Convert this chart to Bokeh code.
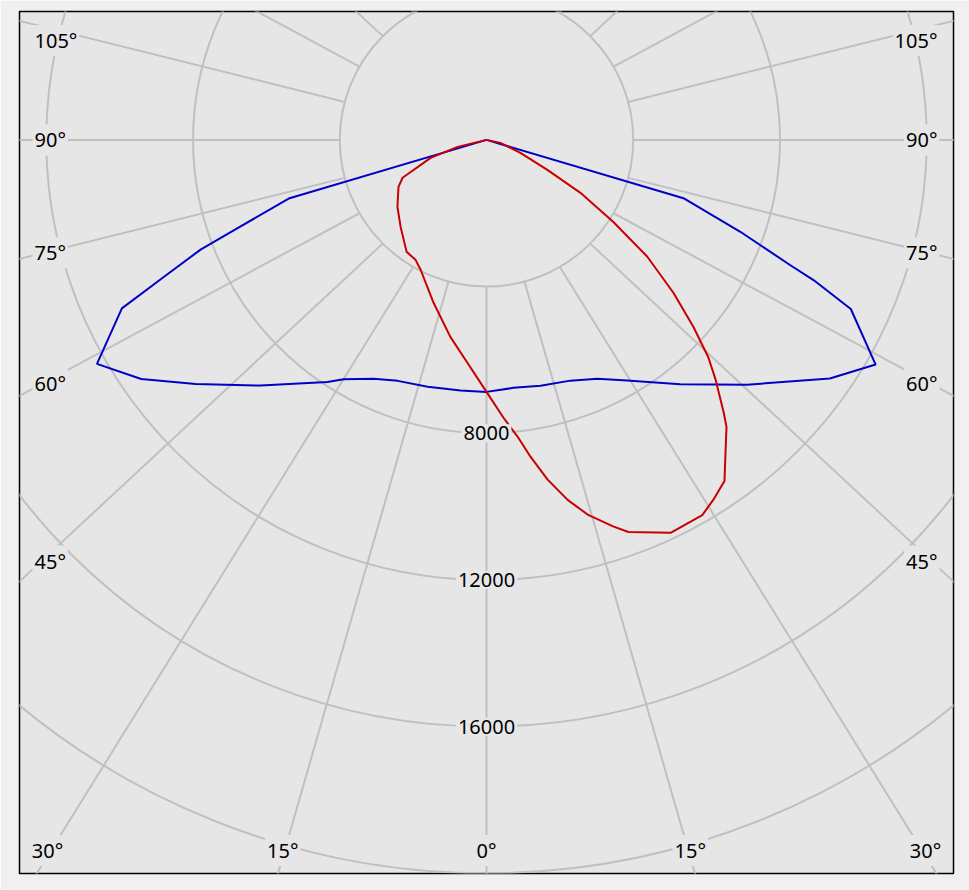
import numpy as np
from bokeh.plotting import figure
from bokeh.models import Range1d
from bokeh.core.properties import value
from bokeh.embed import file_html
from bokeh.resources import INLINE

# ---------------- data (angle from nadir in degrees, intensity in cd) ----------------
blue_angles = [-90, -73.5, -70.2, -69.0, -67.0, -65.2, -60.1, -55.3, -50.0, -42.6, -33.3,
               -30.8, -25.3, -20.2, -13.4, -5.9, 0, 6.2, 12.4, 19.2, 24.9, 30.3, 38.4,
               46.8, 55.2, 60.0, 65.1, 66.8, 67.6, 70.1, 73.5, 90]
blue_cd = [0, 5600, 7400, 8350, 9550, 10950, 12250, 11450, 10350, 9100, 7900,
           7600, 7200, 7000, 6920, 6870, 6870, 6800, 6860, 6950, 7180, 7600, 8500,
           9750, 11400, 12250, 10950, 9700, 8950, 7360, 5600, 0]

red_angles = [-90, -76.4, -72.2, -65.7, -61.9, -53.0, -44.7, -35.5, -30.6, -26.9, -18.0,
              -10.4, -4.9, 0, 3.5, 6.0, 7.9, 10.2, 12.7, 15.1, 18.2, 19.9, 25.1, 29.9,
              32.2, 34.9, 37.0, 39.9, 41.0, 43.7, 45.6, 47.9, 50.7, 54.0, 57.1, 60.6,
              63.8, 69.1, 77.9, 90]
red_cd = [0, 810, 1600, 2510, 2720, 3040, 3330, 3750, 3800, 3970, 4670,
          5460, 6100, 6870, 7590, 8140, 8720, 9410, 10060, 10580, 11100, 11370, 11830, 11800,
          11600, 11340, 10820, 10200, 9860, 9040, 8460, 7600, 6590, 5420, 4120, 2940,
          1850, 990, 390, 0]

ring_values = [4000, 8000, 12000, 16000, 20000]
ring_label_values = [8000, 12000, 16000]
spoke_angles = list(range(0, 360, 15))
side_label_angles = [105, 90, 75, 60, 45]
bottom_label_angles = [30, 15, 0]

# ---------------- geometry / style ----------------
FRAME_W, FRAME_H = 934, 862
Y_TOP, Y_BOT = 3500, -20000
SCALE = FRAME_H / (Y_TOP - Y_BOT)          # px per cd
X_HALF = FRAME_W / 2 / SCALE
FRAME_BG = "#e6e6e6"
GRID = "#c0c0c0"
K_SPOKE = 1.07
FONT = value("Noto Sans")


def polar(angles, cd):
    a = np.radians(np.asarray(angles, dtype=float))
    r = np.asarray(cd, dtype=float)
    return r * np.sin(a), -r * np.cos(a)


p = figure(frame_width=FRAME_W, frame_height=FRAME_H,
           x_range=Range1d(-X_HALF, X_HALF), y_range=Range1d(Y_BOT, Y_TOP),
           x_axis_location=None, y_axis_location=None,
           toolbar_location=None, output_backend="svg",
           min_border_left=19, min_border_top=11, min_border_right=16, min_border_bottom=17)
p.background_fill_color = FRAME_BG
p.border_fill_color = "#f0f0f0"
p.outline_line_color = "black"
p.outline_line_width = 1.5
p.xgrid.visible = False
p.ygrid.visible = False

# rings
p.circle(x=[0] * len(ring_values), y=[0] * len(ring_values), radius=ring_values,
         fill_color=None, line_color=GRID, line_width=2)

# spokes (start at the first ring)
a = np.radians(spoke_angles)
r_in = ring_values[0]
R_OUT = 60000
p.segment(x0=r_in * np.sin(a), y0=-r_in * np.cos(a),
          x1=K_SPOKE * R_OUT * np.sin(a), y1=-R_OUT * np.cos(a),
          line_color=GRID, line_width=2)

# curves
bx, by = polar(blue_angles, blue_cd)
p.line(bx, by, line_color="#0000c8", line_width=2)
rx, ry = polar(red_angles, red_cd)
p.line(rx, ry, line_color="#c80000", line_width=2)

text_kw = dict(text_font=FONT, text_font_size="20px", text_color="black",
               background_fill_color=FRAME_BG, padding=2)

# ring labels on the nadir spoke
p.text(x=[0] * len(ring_label_values), y=[-v for v in ring_label_values],
       text=[str(v) for v in ring_label_values],
       text_align="center", text_baseline="middle", **text_kw)

# side labels
xc = 438 / SCALE
k_side = 1.04
ys = []
for ang in side_label_angles:
    if ang == 90:
        y = 0.0
    else:
        y = -xc / (k_side * np.tan(np.radians(ang)))
    y = min(y, Y_TOP - 29 / SCALE)
    ys.append(y)
labels = [f"{ang}°" for ang in side_label_angles]
p.text(x=[-X_HALF + 13 / SCALE] * len(ys), y=ys, text=labels,
       text_align="left", text_baseline="middle", **text_kw)
p.text(x=[X_HALF - 14 / SCALE] * len(ys), y=ys, text=labels,
       text_align="right", text_baseline="middle", **text_kw)

# bottom labels
yb = Y_BOT + 23 / SCALE
bxs, bys, btx = [], [], []
for ang in bottom_label_angles:
    xoff = abs(yb) * K_SPOKE * np.tan(np.radians(ang))
    for sgn in ([-1, 1] if ang != 0 else [1]):
        bxs.append(sgn * xoff)
        bys.append(yb)
        btx.append(f"{ang}°")
p.text(x=bxs, y=bys, text=btx, text_align="center", text_baseline="middle", **text_kw)

open("out.html", "w").write(file_html(p, INLINE))
